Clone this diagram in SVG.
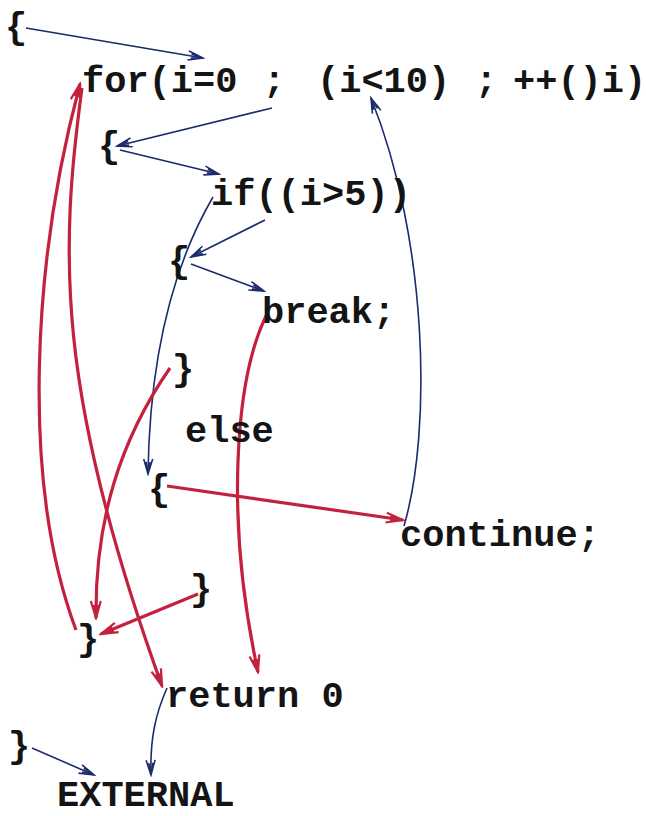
<svg xmlns="http://www.w3.org/2000/svg" width="646" height="816" viewBox="0 0 646 816">
<style>
.t{font-family:"Liberation Mono","Courier New",monospace;font-weight:bold;font-size:37px;fill:#141414}
.b{text-anchor:middle}
.n{fill:none;stroke:#1c2b6b;stroke-width:1.6}
.r{fill:none;stroke:#c3213d;stroke-width:3.2}
</style>
<defs>
<marker id="an" markerUnits="userSpaceOnUse" markerWidth="18" markerHeight="12" refX="16" refY="6" orient="auto">
<path d="M1,1.5 L16,6 L1,10.5 M4,4 L16,6 L4,8" fill="none" stroke="#1c2b6b" stroke-width="1.6"/>
</marker>
<marker id="ar" markerUnits="userSpaceOnUse" markerWidth="20" markerHeight="14" refX="18" refY="7" orient="auto">
<path d="M1,2 L18,7 L1,12 M5,5 L18,7 L5,9" fill="none" stroke="#c3213d" stroke-width="2.2"/>
</marker>
</defs>
<rect width="646" height="816" fill="#ffffff"/>
<g id="connectors">
<path class="n" d="M26,28 L203,58" marker-end="url(#an)"/>
<path class="n" d="M272,108 L117,146" marker-end="url(#an)"/>
<path class="n" d="M120,150 L219,174" marker-end="url(#an)"/>
<path class="n" d="M265,220 L191,257" marker-end="url(#an)"/>
<path class="n" d="M191,264 L264,291" marker-end="url(#an)"/>
<path class="n" d="M213,197 C185,245 150,330 148,474" marker-end="url(#an)"/>
<path class="n" d="M404,526 C432,430 428,240 371,98" marker-end="url(#an)"/>
<path class="n" d="M167,688 C155,715 150,740 151,775" marker-end="url(#an)"/>
<path class="n" d="M32,748 L94,775" marker-end="url(#an)"/>
<path class="r" d="M76,630 C20,480 33,260 80,84" marker-end="url(#ar)"/>
<path class="r" d="M82,88 C60,250 55,390 162,686" marker-end="url(#ar)"/>
<path class="r" d="M170,368 C120,440 95,520 96,618" marker-end="url(#ar)"/>
<path class="r" d="M198,594 L101,634" marker-end="url(#ar)"/>
<path class="r" d="M266,316 C235,380 225,520 258,672" marker-end="url(#ar)"/>
<path class="r" d="M167,486 L403,520" marker-end="url(#ar)"/>
</g>
<g id="n_open_main"><text class="t b" x="16" y="38">{</text></g>
<g id="n_for"><text class="t" y="92"><tspan x="82">for(i=0</tspan><tspan x="263">;</tspan><tspan x="317">(i&lt;10)</tspan><tspan x="475">;</tspan><tspan x="513">++()i)</tspan></text></g>
<g id="n_open_for"><text class="t b" x="109" y="157">{</text></g>
<g id="n_if"><text class="t" x="211" y="205">if((i&gt;5))</text></g>
<g id="n_open_if"><text class="t b" x="179" y="272">{</text></g>
<g id="n_break"><text class="t" x="262" y="323">break;</text></g>
<g id="n_close_if"><text class="t b" x="183" y="380">}</text></g>
<g id="n_else"><text class="t" x="185" y="442">else</text></g>
<g id="n_open_else"><text class="t b" x="159" y="500">{</text></g>
<g id="n_continue"><text class="t" x="400" y="546">continue;</text></g>
<g id="n_close_else"><text class="t b" x="201" y="600">}</text></g>
<g id="n_close_for"><text class="t b" x="88" y="650">}</text></g>
<g id="n_return"><text class="t" x="166" y="707">return 0</text></g>
<g id="n_close_main"><text class="t b" x="19" y="757">}</text></g>
<g id="n_external"><text class="t" x="57" y="806">EXTERNAL</text></g>
</svg>
